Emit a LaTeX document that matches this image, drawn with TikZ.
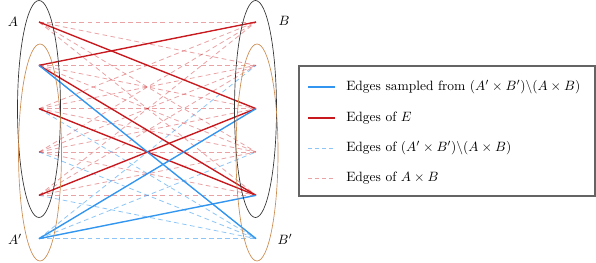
\documentclass[tikz,border=0pt]{standalone}
\usepackage{amsmath}
\definecolor{myred}{RGB}{200,25,30}
\definecolor{myblue}{RGB}{50,150,240}
\definecolor{myorange}{RGB}{205,140,80}
\definecolor{myframe}{RGB}{100,100,100}
\begin{document}
\begin{tikzpicture}[x=0.741pt,y=-0.741pt,
  pinkedge/.style={myred, draw opacity=0.4, line width=0.6pt, dash pattern=on 3.5pt off 2.5pt},
  bluedash/.style={myblue, draw opacity=0.55, line width=0.6pt, dash pattern=on 3.5pt off 2.5pt},
  rededge/.style={myred, line width=1pt},
  blueedge/.style={myblue, line width=1pt},
  setA/.style={black!80, line width=0.5pt},
  setAp/.style={myorange, line width=0.5pt},
  lab/.style={inner sep=0pt, font=\normalsize},
  legtext/.style={anchor=west, inner sep=0pt}]
\useasboundingbox (0,0) rectangle (596,262);
\foreach \i in {1,...,6} {
  \pgfmathsetmacro\yy{22+43.33*(\i-1)}
  \coordinate (a\i) at (39,\yy);
  \coordinate (b\i) at (256,\yy);
}
% edges of A x B
\foreach \i in {1,...,5} {\foreach \j in {1,...,5} {\draw[pinkedge] (a\i) -- (b\j);}}
% edges of (A' x B') \ (A x B)
\foreach \j in {2,...,6} {\draw[bluedash] (a6) -- (b\j);}
\foreach \i in {2,...,5} {\draw[bluedash] (a\i) -- (b6);}
% edges of E
\draw[rededge] (a1) -- (b3);
\draw[rededge] (a2) -- (b1);
\draw[rededge] (a2) -- (b5);
\draw[rededge] (a3) -- (b5);
\draw[rededge] (a5) -- (b3);
% sampled edges
\draw[blueedge] (a2) -- (b6);
\draw[blueedge] (a6) -- (b3);
\draw[blueedge] (a6) -- (b5);
% sets
\draw[setA] (39,109) ellipse [x radius=21.5, y radius=108.5];
\draw[setAp] (40,152.5) ellipse [x radius=21.5, y radius=108.5];
\draw[setA] (255.5,109) ellipse [x radius=21, y radius=108.5];
\draw[setAp] (257,152.5) ellipse [x radius=21, y radius=108.5];
\node[lab] (lA) at (13,22) {$A$};
\node[lab] (lAp) at (15,239) {$A'$};
\node[lab] (lB) at (284,21) {$B$};
\node[lab] (lBp) at (285,239) {$B'$};
% legend
\draw[myframe, line width=0.8pt] (299,66) rectangle (595,196);
\coordinate (s1) at (308,87);  \coordinate (e1) at (335,87);
\coordinate (s2) at (308,118); \coordinate (e2) at (335,118);
\coordinate (s3) at (308,148); \coordinate (e3) at (335,148);
\coordinate (s4) at (308,178); \coordinate (e4) at (335,178);
\draw[blueedge] (s1) -- (e1);
\draw[rededge] (s2) -- (e2);
\draw[myblue, draw opacity=0.55, line width=0.6pt, dash pattern=on 3pt off 2.2pt] (s3) -- (e3);
\draw[myred, draw opacity=0.4, line width=0.6pt, dash pattern=on 3pt off 2.2pt] (s4) -- (e4);
\node[legtext] (t1) at (346,87) {Edges sampled from $(A'\times B')\backslash(A\times B)$};
\node[legtext] (t2) at (346,118) {Edges of $E$};
\node[legtext] (t3) at (346,148) {Edges of $(A'\times B')\backslash(A\times B)$};
\node[legtext] (t4) at (346,178) {Edges of $A\times B$};
\end{tikzpicture}
\end{document}
